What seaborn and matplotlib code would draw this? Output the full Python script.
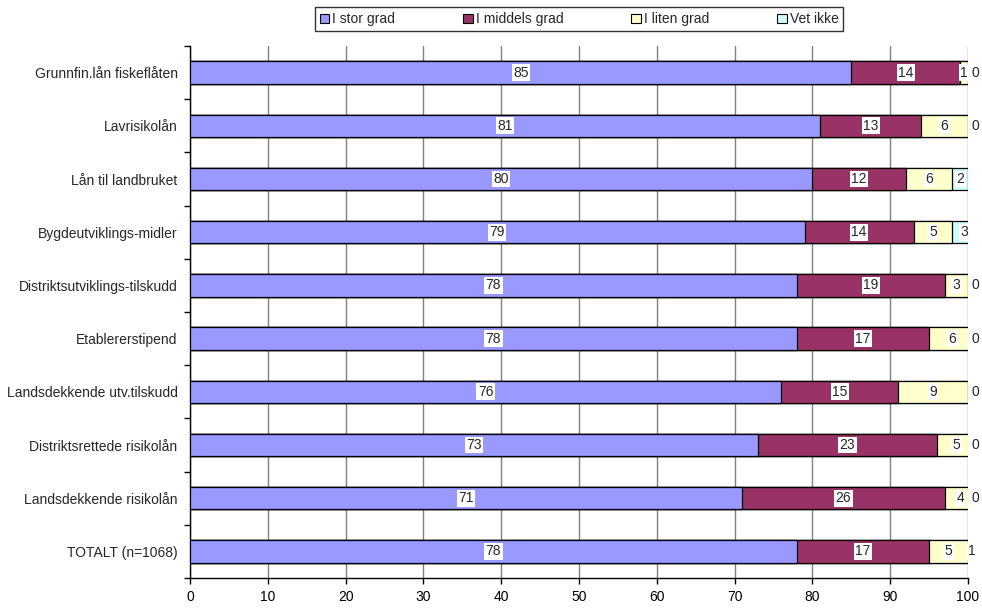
import numpy as np
import pandas as pd
import matplotlib
matplotlib.use("Agg")
import matplotlib.pyplot as plt
from matplotlib.ticker import FixedLocator
import seaborn as sns

# Ordninger (kategorier) fra topp til bunn
categories = [
    "Grunnfin.lån fiskeflåten",
    "Lavrisikolån",
    "Lån til landbruket",
    "Bygdeutviklings-midler",
    "Distriktsutviklings-tilskudd",
    "Etablererstipend",
    "Landsdekkende utv.tilskudd",
    "Distriktsrettede risikolån",
    "Landsdekkende risikolån",
    "TOTALT (n=1068)",
]

# Andeler i prosent per svarkategori
stor_grad = [85, 81, 80, 79, 78, 78, 76, 73, 71, 78]
middels_grad = [14, 13, 12, 14, 19, 17, 15, 23, 26, 17]
liten_grad = [1, 6, 6, 5, 3, 6, 9, 5, 4, 5]
vet_ikke = [0, 0, 2, 3, 0, 0, 0, 0, 0, 1]

series_names = ["I stor grad", "I middels grad", "I liten grad", "Vet ikke"]
series_colors = ["#9999FF", "#993366", "#FFFFCC", "#CCFFFF"]
x_ticks = [0, 10, 20, 30, 40, 50, 60, 70, 80, 90, 100]

sns.set_style("white")
plt.rcParams["font.family"] = ["Liberation Sans", "DejaVu Sans"]
plt.rcParams["font.size"] = 10

values = np.array([stor_grad, middels_grad, liten_grad, vet_ikke], dtype=float)
cum = np.cumsum(values, axis=0)
lefts = cum - values

df = pd.DataFrame({"kategori": categories})
for i, name in enumerate(series_names):
    df[name] = cum[i]

fig = plt.figure(figsize=(9.82, 6.08), dpi=100)
ax = fig.add_axes([0.1935, 0.0493, 0.7922, 0.875])

# Stacked bars: draw cumulative totals from the outermost segment inwards
for i in range(len(series_names) - 1, -1, -1):
    sns.barplot(
        data=df, x=series_names[i], y="kategori", orient="h",
        color=series_colors[i], saturation=1, width=0.42,
        edgecolor="black", linewidth=0.9, ax=ax, zorder=3,
    )

ax.set_xlim(0, 100)
ax.set_ylim(len(categories) - 0.5, -0.5)
ax.set_xlabel("")
ax.set_ylabel("")
ax.xaxis.set_major_locator(FixedLocator(x_ticks))
ax.set_xticklabels([str(t) for t in x_ticks])
ax.grid(axis="x", color="#808080", linewidth=1.0, zorder=0)
ax.set_axisbelow(True)

for side in ["top", "right"]:
    ax.spines[side].set_visible(False)
for side in ["left", "bottom"]:
    ax.spines[side].set_color("black")
    ax.spines[side].set_linewidth(1.0)

ax.tick_params(axis="x", direction="out", length=4.5, width=1.0,
               colors="black", labelsize=10, pad=4, bottom=True)
ax.tick_params(axis="y", which="major", length=0, labelsize=10, pad=9)
ax.yaxis.set_minor_locator(FixedLocator(np.arange(-0.5, len(categories), 1.0)))
ax.tick_params(axis="y", which="minor", direction="out", length=4.5,
               width=1.0, color="black", left=True)

# Value labels on each segment; zero-width segments get their label
# just outside the right end of the scale
box = dict(boxstyle="square,pad=0.1", facecolor="white", edgecolor="none")
for i in range(len(series_names)):
    for j in range(len(categories)):
        v = values[i, j]
        if v == 0:
            ax.annotate(f"{int(v)}", xy=(min(lefts[i, j], 100), j),
                        xytext=(5.4, 0), textcoords="offset points",
                        ha="center", va="center", fontsize=10,
                        annotation_clip=False, zorder=5)
        else:
            ax.text(lefts[i, j] + v / 2, j, f"{int(v)}", ha="center",
                    va="center", fontsize=10, bbox=box, zorder=5,
                    clip_on=False)

# Legend across the top
handles = [plt.Rectangle((0, 0), 1, 1, facecolor=c, edgecolor="black",
                         linewidth=0.8) for c in series_colors]
leg = ax.legend(handles, series_names, loc="lower center",
                bbox_to_anchor=(0.5, 1.028), ncol=4, frameon=True,
                fancybox=False, edgecolor="black", fontsize=10,
                handlelength=0.7, handleheight=0.7, handletextpad=0.2,
                columnspacing=4.9, borderpad=0.35, borderaxespad=0)
leg.get_frame().set_linewidth(1.0)

fig.savefig("out.png", dpi=100, facecolor="white")
